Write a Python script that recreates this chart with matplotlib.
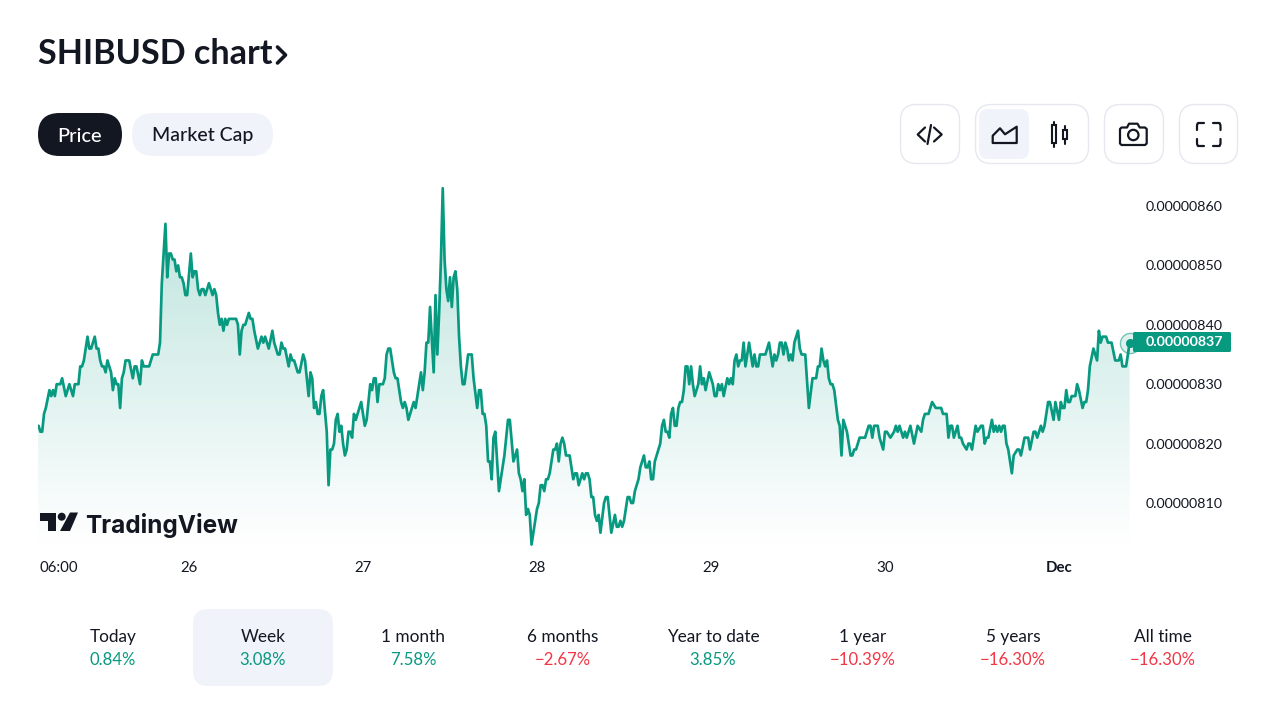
import numpy as np
import matplotlib
matplotlib.use("Agg")
import matplotlib.pyplot as plt
from matplotlib.patches import FancyBboxPatch, Rectangle, Circle, Polygon, PathPatch
from matplotlib.path import Path

GREEN = "#089981"
RED = "#f23645"
DARK = "#131722"
PILL = "#f0f3fa"
BORDER = "#e6e8f0"
FONT = "Lato"

# hours since Nov 25 00:00 and SHIBUSD price in units of 0.00000001
hours = [
    3.25, 3.5, 3.75, 4, 4.25, 4.75, 5, 5.25, 5.5, 5.75, 6.25, 6.5, 7, 7.5, 8, 8.25, 8.75, 9, 9.25, 9.5,
    10, 10.25, 10.5, 11, 11.25, 11.5, 11.75, 12, 12.25, 12.5, 12.75, 13.25, 13.5, 13.75, 14, 14.25, 14.5, 14.75, 15, 15.25,
    15.75, 16.25, 16.5, 16.75, 17.25, 17.5, 17.75, 18.5, 19, 19.75, 20, 20.25, 20.75, 21, 21.25, 21.5, 21.75, 22, 22.25, 22.5,
    22.75, 23, 23.25, 23.5, 23.75, 24.25, 24.5, 24.75, 25, 25.25, 25.5, 25.75, 26, 26.25, 26.75, 27.25, 27.5, 27.75, 28, 28.25,
    28.5, 28.75, 29, 29.25, 29.5, 30.5, 30.75, 31, 31.25, 31.5, 31.75, 32.25, 32.5, 32.75, 33, 33.5, 34, 34.25, 34.5, 35,
    35.5, 35.75, 36.25, 36.5, 36.75, 37, 37.25, 37.75, 38, 38.25, 38.5, 39, 39.25, 39.75, 40, 40.5,
    40.75, 41, 41.25, 41.5, 41.75, 42, 42.25, 42.5, 43, 43.25, 43.5, 43.75, 44, 44.25, 44.5, 44.75, 45, 45.25, 45.5, 45.75,
    46, 46.25, 46.5, 46.75, 47, 47.25, 47.75, 48.25, 48.5, 49, 49.25, 49.5, 49.75, 50, 50.25, 50.75, 51, 51.25, 51.5, 51.75,
    52.25, 52.5, 52.75, 53.25, 53.5, 53.75, 54, 54.25, 55, 55.25, 56, 56.25, 56.5, 56.75, 57, 57.25, 57.75, 58, 58.25, 58.5,
    58.75, 59, 59.25, 59.5, 59.75, 60, 60.25, 60.5, 60.75, 61, 61.25, 61.5, 61.75, 62, 62.5, 63, 63.25, 63.75, 64, 64.25,
    64.5, 64.75, 65, 65.25, 65.5, 65.75, 66, 66.25, 66.75, 67.5, 68, 68.25, 68.75, 69.25, 69.5, 69.75, 70, 70.25, 70.5, 70.75,
    71, 71.25, 72, 72.25, 72.5, 72.75, 73, 73.25, 73.5, 73.75, 74.25, 74.5, 74.75, 75, 75.25, 75.5, 75.75, 76, 76.5, 77,
    77.25, 77.5, 77.75, 78.25, 78.5, 78.75, 79, 79.25, 79.5, 79.75, 80, 80.25, 80.5, 80.75, 81.25, 81.5, 81.75, 82.25, 82.75, 83,
    83.25, 83.5, 83.75, 84, 84.5, 84.75, 85, 85.25, 85.5, 86, 86.25, 86.75, 87, 87.25, 87.5, 87.75, 88, 88.25, 89, 89.25,
    89.5, 89.75, 90, 90.25, 90.5, 90.75, 91, 91.25, 91.5, 91.75, 92, 92.25, 92.5, 92.75, 93, 93.25, 93.5, 93.75, 94.25, 94.5,
    94.75, 95, 95.25, 95.75, 96.25, 96.5, 96.75, 97, 97.25, 97.5, 97.75, 98.25, 98.5, 98.75, 99, 99.25, 99.5, 99.75, 100, 100.25,
    100.5, 100.75, 101.25, 101.75, 102, 102.25, 102.5, 102.75, 103.5, 104, 104.5, 104.75, 105, 105.25, 105.5, 105.75, 106, 106.25, 106.5, 106.75,
    107, 107.25, 107.5, 108, 108.25, 108.5, 109, 109.5, 110, 110.5, 110.75, 111, 111.25, 111.5, 111.75, 112, 112.25, 112.5, 112.75, 113,
    113.5, 113.75, 114, 114.25, 114.75, 115.25, 115.5, 115.75, 116, 116.5, 117.25, 117.75, 118, 118.25, 118.5, 119, 119.25, 119.75, 120, 120.25,
    120.75, 121.25, 121.5, 121.75, 122, 122.5, 122.75, 123, 123.5, 124, 124.5, 125, 125.25, 125.5, 126, 126.5, 127, 127.75, 128, 128.5,
    128.75, 129, 129.25, 129.5, 130, 130.25, 130.5, 130.75, 131.25, 131.5, 131.75, 132, 132.5, 132.75, 133.25, 133.5, 133.75, 134, 134.25, 134.75,
    135, 135.25, 135.5, 135.75, 136, 136.25, 136.5, 136.75, 137, 137.5, 137.75, 138.25, 138.5, 138.75, 139.25, 139.75, 140, 140.5, 140.75, 141,
    141.5, 141.75, 142, 142.25, 142.5, 142.75, 143.25, 143.5, 144, 144.25, 144.5, 144.75, 145, 145.25, 145.5, 145.75, 146.25, 146.5, 146.75, 147.25,
    147.5, 147.75, 148, 148.25, 148.75, 149.25, 149.5, 149.75, 150, 150.5, 150.75, 151.25, 151.75, 152.25, 152.5, 152.75, 153.25, 153.75,
]
prices = [
    823, 822, 822, 825, 826, 829, 828, 829, 828, 830, 830, 831, 828, 830, 828, 830, 830, 833, 833, 834,
    838, 836, 836, 838, 836, 836, 834, 833, 833, 832, 834, 832, 829, 831, 830, 830, 826, 831, 832, 834,
    834, 831, 833, 833, 830, 834, 833, 833, 835, 835, 837, 847, 857, 848, 852, 852, 851, 851, 849, 850,
    848, 848, 847, 845, 845, 852, 848, 849, 849, 846, 845, 846, 846, 845, 847, 845, 846, 845, 842, 840,
    841, 839, 841, 840, 841, 841, 840, 835, 839, 840, 840, 842, 841, 841, 839, 836, 838, 837, 838, 836,
    839, 837, 835, 835, 837, 836, 836, 833, 835, 834, 834, 832, 832, 835, 834, 828,
    832, 831, 826, 827, 825, 825, 828, 829, 822, 813, 819, 819, 820, 824, 825, 822, 823, 820, 818, 819,
    822, 822, 821, 825, 824, 825, 827, 823, 824, 830, 829, 831, 831, 827, 830, 830, 831, 835, 836, 836,
    832, 831, 831, 827, 826, 827, 826, 824, 827, 826, 832, 829, 832, 837, 837, 843, 832, 845, 835, 842,
    851, 863, 851, 846, 844, 848, 843, 848, 849, 846, 838, 833, 830, 830, 835, 835, 831, 826, 829, 829,
    825, 825, 823, 817, 817, 814, 821, 822, 812, 818, 824, 824, 817, 819, 815, 814, 812, 814, 808, 809,
    808, 803, 809, 810, 813, 813, 812, 814, 814, 815, 819, 819, 820, 817, 820, 821, 820, 818, 818, 814,
    815, 815, 813, 815, 814, 815, 815, 814, 811, 811, 808, 807, 808, 805, 810, 811, 811, 805, 808, 806,
    806, 807, 806, 807, 811, 811, 810, 810, 812, 814, 816, 818, 816, 816, 817, 814, 814, 817, 820, 823,
    824, 822, 822, 821, 825, 826, 823, 823, 826, 827, 827, 829, 833, 833, 830, 833, 830, 828, 830, 833,
    830, 831, 829, 832, 830, 828, 828, 830, 829, 830, 828, 831, 830, 831, 830, 834, 835, 833, 834, 834,
    837, 833, 837, 833, 835, 833, 833, 835, 835, 837, 833, 835, 834, 835, 837, 837, 835, 837, 836, 834,
    835, 834, 837, 839, 836, 835, 835, 826, 831, 831, 833, 833, 836, 834, 833, 834, 831, 830, 830, 829,
    824, 823, 818, 824, 822, 818, 818, 819, 819, 821, 821, 823, 823, 821, 823, 823, 821, 819, 822, 822,
    821, 822, 823, 822, 823, 821, 822, 821, 823, 820, 823, 822, 824, 825, 825, 827, 826, 826, 825, 825,
    821, 823, 823, 821, 823, 821, 821, 820, 819, 820, 820, 819, 823, 822, 823, 823, 820, 821, 821, 824,
    822, 823, 822, 823, 822, 823, 823, 820, 819, 815, 818, 819, 819, 818, 821, 821, 819, 822, 822, 821,
    823, 822, 823, 825, 827, 827, 824, 827, 824, 827, 826, 826, 829, 827, 827, 828, 828, 830, 829, 826,
    827, 827, 829, 833, 836, 834, 839, 837, 838, 838, 837, 837, 834, 834, 835, 833, 833, 837,
]
last_price = 837

y_ticks = [810, 820, 830, 840, 850, 860]
x_ticks = [6, 24, 48, 72, 96, 120, 144]
x_labels = ["06:00", "26", "27", "28", "29", "30", "Dec"]

periods = ["Today", "Week", "1 month", "6 months", "Year to date", "1 year", "5 years", "All time"]
changes = [0.84, 3.08, 7.58, -2.67, 3.85, -10.39, -16.30, -16.30]


def px(size):
    return size * 0.72


def price_text(p):
    return f"{p * 1e-8:.8f}"


def round_box(ax, x0, y0, x1, y1, r, **kw):
    box = FancyBboxPatch((x0 + r, y0 + r), x1 - x0 - 2 * r, y1 - y0 - 2 * r,
                         boxstyle=f"round,pad={r},rounding_size={r}", **kw)
    ax.add_patch(box)


def stroke(ax, pts, lw=1.6, closed=False):
    xs, ys = zip(*pts)
    if closed:
        ax.add_patch(Polygon(pts, closed=True, fill=False, ec=DARK, lw=lw, joinstyle="round"))
    else:
        ax.plot(xs, ys, color=DARK, lw=lw, solid_capstyle="round", solid_joinstyle="round")


fig = plt.figure(figsize=(12.8, 7.2), dpi=100, facecolor="white")

# page layer in pixel coordinates
ui = fig.add_axes([0, 0, 1, 1])
ui.set_xlim(0, 1280)
ui.set_ylim(720, 0)
ui.axis("off")

ui.text(38, 54.5, "SHIBUSD chart", fontsize=px(34.2), fontweight="bold", color=DARK,
        family=FONT, va="center", ha="left")
stroke(ui, [(277.5, 47), (285.5, 55), (277.5, 63)], lw=2.6)

round_box(ui, 38, 113, 122, 156, 21.5, fc=DARK, ec="none")
round_box(ui, 132, 113, 273, 156, 21.5, fc=PILL, ec="none")
ui.text(80, 136, "Price", fontsize=px(20), color="white", family=FONT, ha="center", va="center", fontweight="medium")
ui.text(202.5, 135, "Market Cap", fontsize=px(19.5), color=DARK, family=FONT, ha="center", va="center", fontweight="medium")

# toolbar buttons
for x0, x1 in [(900, 960), (975, 1089), (1104, 1164), (1179, 1238)]:
    round_box(ui, x0 + 0.5, 104.5, x1 - 0.5, 163.5, 16, fc="white", ec=BORDER, lw=1)
round_box(ui, 979, 109, 1029, 159, 9, fc=PILL, ec="none")

stroke(ui, [(925, 127.5), (917.7, 134.5), (925, 141.5)])
stroke(ui, [(931, 125), (927.5, 144)])
stroke(ui, [(934, 127.5), (941.7, 134.5), (934, 141.5)])
stroke(ui, [(992.7, 143), (1016.7, 143), (1016.7, 126.7), (1005, 134.3), (1000, 128.3), (992.7, 135.7)], closed=True)
for xc, top, bot, w0, w1 in [(1054.3, 125, 142.7, 121.7, 146.7), (1065.3, 130, 139.3, 125.7, 144)]:
    ui.add_patch(Rectangle((xc - 2, top), 4, bot - top, fill=False, ec=DARK, lw=1.5))
    stroke(ui, [(xc, w0), (xc, top)], lw=1.5)
    stroke(ui, [(xc, bot), (xc, w1)], lw=1.5)
cam = [(1121.5, 127.5), (1127, 127.5), (1129, 123.7), (1137.5, 123.7), (1139.7, 127.5), (1145, 127.5), (1146.7, 129),
       (1146.7, 143.5), (1145, 145), (1121.5, 145), (1120, 143.5), (1120, 129)]
stroke(ui, cam, closed=True)
ui.add_patch(Circle((1133.3, 135), 5.2, fill=False, ec=DARK, lw=1.6))
for xa, xb, ya, yb in [(1204, 1197, 123, 130), (1213, 1220.5, 123, 130), (1204, 1197, 146, 139), (1213, 1220.5, 146, 139)]:
    verts = [(xa, ya), ((xa + xb) / 2 - (xa - xb) * 0.3, ya), (xb, ya), (xb, (ya + yb) / 2), (xb, yb)]
    codes = [Path.MOVETO, Path.LINETO, Path.CURVE3, Path.CURVE3, Path.LINETO]
    ui.add_patch(PathPatch(Path(verts, codes), fill=False, ec=DARK, lw=1.6, capstyle="round"))

# period tabs
round_box(ui, 193, 609, 333, 686, 15, fc=PILL, ec="none")
for i, (name, change) in enumerate(zip(periods, changes)):
    xc = 113 + 150 * i
    ui.text(xc, 637, name, fontsize=px(17.2), color=DARK, family=FONT, ha="center", va="center")
    label = f"{change:.2f}%".replace("-", "\u2212")
    ui.text(xc, 660, label, fontsize=px(16.8), color=GREEN if change > 0 else RED,
            family=FONT, ha="center", va="center")

# price chart
ax = fig.add_axes([38 / 1280, 1 - 548 / 720, (1130 - 38) / 1280, (548 - 180) / 720])
ax.patch.set_alpha(0)
x_min, x_max = (38 - 15) / 7.25, (1130 - 15) / 7.25
y_min, y_max = 860 - (548 - 206) / 5.94, 860 + (206 - 180) / 5.94

rgba = np.zeros((368, 2, 4))
rgba[..., :3] = matplotlib.colors.to_rgb(GREEN)
rgba[..., 3] = np.linspace(0.29, 0.0, 368)[:, None]
im = ax.imshow(rgba, extent=[x_min, x_max, y_min, y_max], aspect="auto", origin="upper", zorder=1)
outline = list(zip(hours, prices))
clip = Polygon([(x_min, y_min), (x_min, prices[0])] + outline + [(hours[-1], y_min)],
               closed=True, transform=ax.transData, fc="none", ec="none")
ax.add_patch(clip)
im.set_clip_path(clip)

ax.plot([x_min] + hours, [prices[0]] + prices, color=GREEN, lw=1.95, zorder=3, solid_joinstyle="round")
ax.set_xlim(x_min, x_max)
ax.set_ylim(y_min, y_max)

for side in ax.spines.values():
    side.set_visible(False)
ax.yaxis.tick_right()
ax.set_yticks(y_ticks)
ax.set_yticklabels([price_text(p) for p in y_ticks], fontsize=px(14.3), color=DARK, family=FONT)
ax.set_xticks(x_ticks)
ax.set_xticklabels(x_labels, fontsize=px(15), color=DARK, family=FONT)
ax.get_xticklabels()[-1].set_fontweight("bold")
ax.tick_params(axis="y", length=0, pad=px(16))
ax.tick_params(axis="x", length=0, pad=px(12.5))

# current price marker and tag
ax.plot(hours[-1], last_price, "o", ms=14.5, mfc=GREEN + "22", mec=GREEN + "88", mew=1, zorder=4, clip_on=False)
ax.plot(hours[-1], last_price, "o", ms=5.5, color=GREEN, zorder=5, clip_on=False)
top_layer = fig.add_axes([0, 0, 1, 1], zorder=5)
top_layer.set_xlim(0, 1280)
top_layer.set_ylim(720, 0)
top_layer.axis("off")
round_box(top_layer, 1133, 332, 1231, 352, 1.5, fc=GREEN, ec="none")
top_layer.text(1146, 342.5, price_text(last_price), fontsize=px(14.2), color="white", fontweight="bold",
               family=FONT, va="center", ha="left")

# TradingView mark over the chart
top_layer.add_patch(Polygon([(40, 512.5), (56, 512.5), (56, 531), (48, 531), (48, 520.5), (40, 520.5)], fc=DARK, ec="none"))
top_layer.add_patch(Circle((61.7, 516.7), 4, fc=DARK, ec="none"))
top_layer.add_patch(Polygon([(70, 512.5), (78, 512.5), (70, 531), (60, 531)], fc=DARK, ec="none"))
top_layer.text(85.5, 525, "TradingView", fontsize=px(24.4), fontweight="bold", color=DARK, family="Inter",
               va="center", ha="left")

fig.savefig("out.png", dpi=100)
